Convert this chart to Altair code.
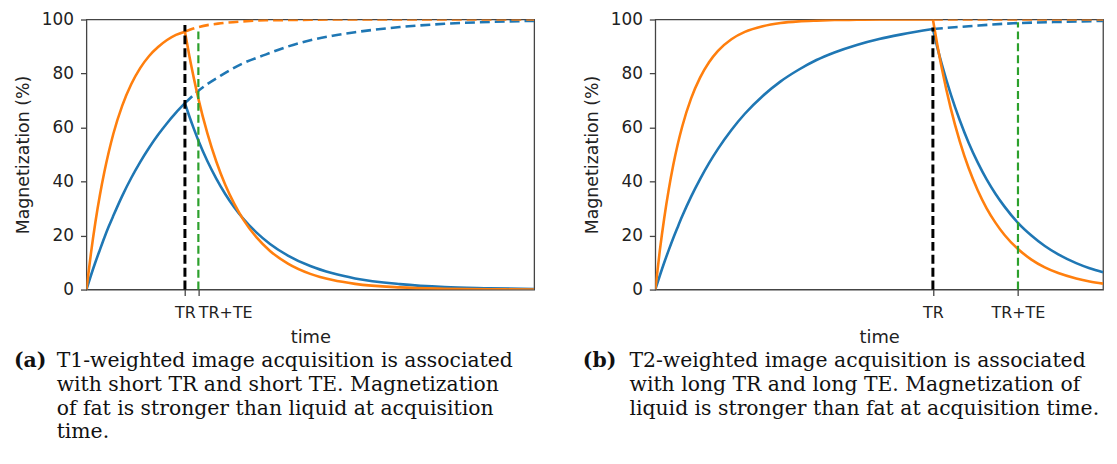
import altair as alt
import pandas as pd

# ---------------- data ----------------
# Panel (a): T1-weighted (short TR, short TE); time axis 0..100
a_tr, a_trte = 22, 25
a_rise_t = [0, 1, 2, 3, 4, 5, 6, 8, 10, 12, 14, 16, 18, 20, 22]
a_fat_rise = [0, 13.3, 24.9, 34.9, 43.5, 51.0, 57.6, 68.1, 76.0, 82.0, 86.5, 89.8, 92.4, 94.3, 95.5]
a_liq_rise = [0, 5.2, 10.1, 14.7, 19.2, 23.4, 27.3, 34.7, 41.3, 47.2, 52.5, 57.3, 61.6, 65.5, 69.0]
a_dec_t = [22, 23, 24, 25, 27, 29, 31, 33, 35, 38, 41, 45, 50, 55, 60, 70, 80, 90, 100]
a_fat_dec = [95.5, 86.4, 78.2, 70.7, 57.9, 47.4, 38.8, 31.8, 26.0, 19.3, 14.3, 9.6, 5.8, 3.5, 2.1, 0.8, 0.3, 0.1, 0.0]
a_liq_dec = [69.0, 64.1, 59.5, 55.2, 47.6, 41.1, 35.4, 30.5, 26.3, 21.1, 16.9, 12.6, 8.7, 6.0, 4.1, 2.0, 0.9, 0.5, 0.2]
a_rec_t = [22, 25, 30, 35, 40, 45, 50, 55, 60, 70, 80, 90, 100]
a_fat_rec = [95.5, 97.2, 98.6, 99.3, 99.7, 99.8, 99.9, 100, 100, 100, 100, 100, 100]
a_liq_rec = [69.0, 73.6, 79.2, 83.8, 87.0, 90.0, 92.3, 94.0, 95.3, 97.2, 98.4, 99.1, 99.5]
a_tr_top, a_te_top = 98, 97

# Panel (b): T2-weighted (long TR, long TE)
b_tr, b_trte = 62, 81
b_rise_t = [0, 1, 2, 3, 4, 5, 6, 8, 10, 12, 14, 17, 20, 24, 28, 32, 36, 40, 45, 50, 55, 62]
b_fat_rise = [0, 14.3, 26.5, 37.0, 46.0, 53.7, 60.3, 70.8, 78.5, 84.2, 88.4, 92.7, 95.4, 97.5, 98.7, 99.3, 99.6, 99.8, 99.9, 100, 100, 100]
b_liq_rise = [0, 5.1, 10.0, 14.6, 19.0, 23.1, 27.1, 34.4, 40.9, 46.8, 52.1, 59.1, 65.1, 71.7, 77.1, 81.4, 85.0, 87.8, 90.6, 92.8, 94.5, 96.5]
b_dec_t = [62, 63, 64, 66, 68, 70, 72, 74, 76, 78, 81, 84, 87, 90, 94, 97, 100]
b_fat_dec = [100, 90.5, 81.9, 67.0, 54.9, 44.9, 36.8, 30.1, 24.7, 20.2, 15.0, 11.1, 8.2, 6.1, 4.1, 3.0, 2.2]
b_liq_dec = [96.5, 89.6, 83.4, 72.3, 62.7, 54.3, 47.1, 40.8, 35.4, 30.7, 24.7, 20.0, 16.1, 13.0, 9.8, 7.9, 6.4]
b_rec_t = [62, 70, 80, 90, 100]
b_fat_rec = [100, 100, 100, 100, 100]
b_liq_rec = [96.5, 97.5, 98.6, 99.1, 99.5]
b_tr_top, b_te_top = 97, 99

y_ticks = [0, 20, 40, 60, 80, 100]

caption_a_tag = "(a)"
caption_a = [
    "T1-weighted image acquisition is associated",
    "with short TR and short TE. Magnetization",
    "of fat is stronger than liquid at acquisition",
    "time.",
]
caption_b_tag = "(b)"
caption_b = [
    "T2-weighted image acquisition is associated",
    "with long TR and long TE. Magnetization of",
    "liquid is stronger than fat at acquisition time.",
]

# ---------------- styling ----------------
BLUE, ORANGE, GREEN, BLACK = "#1f77b4", "#ff7f0e", "#2ca02c", "#000000"
W, H = 451, 272
SANS = "DejaVu Sans"
SERIF = "DejaVu Serif"
TXT = "#222222"


def frame(t, v, seg):
    return pd.DataFrame({"t": t, "m": v, "seg": seg})


def build(rise_t, fat_rise, liq_rise, dec_t, fat_dec, liq_dec, rec_t, fat_rec, liq_rec,
          tr, trte, tr_top, te_top, tag, lines, tag_x, text_x, te_align):
    x_enc = alt.X(
        "t:Q",
        scale=alt.Scale(domain=[0, 100], nice=False, zero=False),
        axis=alt.Axis(
            values=[tr, trte],
            labelExpr=f"datum.value == {tr} ? 'TR' : 'TR+TE'",
            labelAlign={"condition": {"test": f"datum.value == {trte}", "value": te_align},
                        "value": "center"},
            labelOverlap=False,
            labelFlush=False,
            title="time",
            grid=False,
            domain=False,
            tickColor="#444444",
            tickWidth=1.3,
            tickSize=6,
            labelPadding=9,
            labelFont=SANS,
            labelFontSize=16,
            labelColor=TXT,
            titleFont=SANS,
            titleFontSize=18,
            titleFontWeight="normal",
            titleColor=TXT,
            titlePadding=8,
        ),
    )
    y_enc = alt.Y(
        "m:Q",
        scale=alt.Scale(domain=[0, 100], nice=False),
        axis=alt.Axis(
            values=y_ticks,
            title="Magnetization (%)",
            grid=False,
            domain=False,
            tickColor="#444444",
            tickWidth=1.3,
            tickSize=6,
            labelPadding=7,
            labelFont=SANS,
            labelFontSize=17,
            labelColor=TXT,
            titleFont=SANS,
            titleFontSize=17.5,
            titleFontWeight="normal",
            titleColor=TXT,
            titlePadding=9,
        ),
    )

    liq_solid = pd.concat([frame(rise_t, liq_rise, "rise"), frame(dec_t, liq_dec, "decay")])
    fat_solid = pd.concat([frame(rise_t, fat_rise, "rise"), frame(dec_t, fat_dec, "decay")])
    liq_dash = frame(rec_t, liq_rec, "rec")
    fat_dash = frame(rec_t, fat_rec, "rec")

    def line(df, color, dash=None):
        kw = dict(color=color, strokeWidth=2.6, interpolate="monotone", clip=True)
        if dash:
            kw["strokeDash"] = dash
        return alt.Chart(df).mark_line(**kw).encode(x=x_enc, y=y_enc, detail="seg:N")

    rules_df_tr = pd.DataFrame({"t": [tr], "m": [0], "m2": [tr_top]})
    rules_df_te = pd.DataFrame({"t": [trte], "m": [0], "m2": [te_top]})
    rule_tr = alt.Chart(rules_df_tr).mark_rule(color=BLACK, strokeWidth=3, strokeDash=[9, 4]).encode(
        x=x_enc, y=y_enc, y2="m2:Q")
    rule_te = alt.Chart(rules_df_te).mark_rule(color=GREEN, strokeWidth=2.2, strokeDash=[8, 4]).encode(
        x=x_enc, y=y_enc, y2="m2:Q")

    one = pd.DataFrame({"k": [0]})
    tag_mark = alt.Chart(one).mark_text(
        text=tag, font=SERIF, fontSize=20.5, fontWeight="bold", align="left",
        baseline="alphabetic", color="#111111").encode(x=alt.value(tag_x), y=alt.value(350))
    cap_mark = alt.Chart(one).mark_text(
        text=lines, font=SERIF, fontSize=20.5, lineHeight=24, align="left",
        baseline="alphabetic", color="#111111").encode(x=alt.value(text_x), y=alt.value(350))

    return alt.layer(
        line(liq_dash, BLUE, [10, 5]),
        line(fat_dash, ORANGE, [10, 5]),
        line(liq_solid, BLUE),
        line(fat_solid, ORANGE),
        rule_tr,
        rule_te,
        tag_mark,
        cap_mark,
    ).properties(width=W, height=H)


panel_a = build(a_rise_t, a_fat_rise, a_liq_rise, a_dec_t, a_fat_dec, a_liq_dec,
                a_rec_t, a_fat_rec, a_liq_rec, a_tr, a_trte, a_tr_top, a_te_top,
                caption_a_tag, caption_a, -73, -30, "left")
panel_b = build(b_rise_t, b_fat_rise, b_liq_rise, b_dec_t, b_fat_dec, b_liq_dec,
                b_rec_t, b_fat_rec, b_liq_rec, b_tr, b_trte, b_tr_top, b_te_top,
                caption_b_tag, caption_b, -73, -26, "center")

chart = alt.hconcat(panel_a, panel_b, spacing=47).properties(
    padding={"left": 5, "top": 0, "right": 5, "bottom": 0},
    background="white",
).configure_view(stroke="#444444", strokeWidth=1.3)

chart.save("out.html", embed_options={"renderer": "svg", "actions": False})
